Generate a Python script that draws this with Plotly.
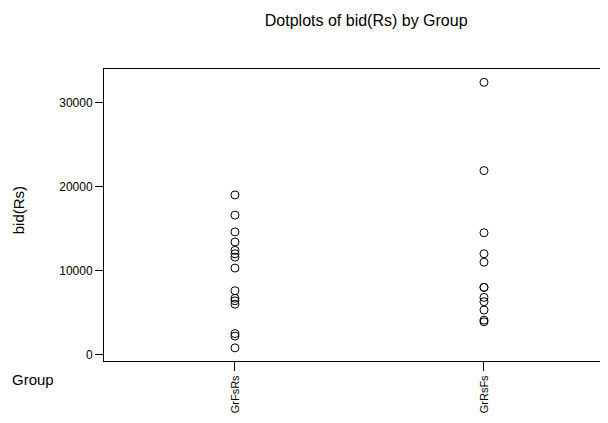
import plotly.graph_objects as go

groups = ["GrFsRs", "GrRsFs"]
bid_grfsrs = [19000, 16600, 14600, 13400, 12400, 12000, 11600, 10300,
              7600, 6700, 6400, 6000, 2500, 2200, 800]
bid_grrsfs = [32400, 21900, 14500, 12000, 11000, 8000, 8000, 6800,
              6300, 5300, 4100, 3900]
y_ticks = [0, 10000, 20000, 30000]

fig = go.Figure()
for i, vals in enumerate([bid_grfsrs, bid_grrsfs]):
    fig.add_trace(go.Scatter(
        x=[i] * len(vals), y=vals, mode="markers",
        marker=dict(symbol="circle-open", size=8, color="black",
                    line=dict(width=1, color="black")),
        showlegend=False, hoverinfo="y"))

# page has an 8px body margin, so the figure is 600x415 placed at (8,8)
fig.update_layout(
    width=600, height=415,
    margin=dict(l=96, r=8, t=61, b=62),
    paper_bgcolor="white", plot_bgcolor="white",
    font=dict(family="Liberation Sans, Arial, sans-serif", color="black"),
    title=dict(text="Dotplots of bid(Rs) by Group", x=0.597, xanchor="center",
               xref="container", y=0.971, yanchor="middle",
               font=dict(size=16, color="black")),
    xaxis=dict(range=[-0.526, 1.466], tickvals=[0, 1], ticktext=groups,
               tickangle=-90, ticks="outside", ticklen=9, tickwidth=1,
               tickcolor="black", showgrid=False, zeroline=False,
               showline=True, linecolor="black", linewidth=1, mirror=True,
               tickfont=dict(size=11)),
    yaxis=dict(range=[-763, 33990], tickvals=y_ticks,
               ticktext=[str(v) for v in y_ticks],
               ticks="outside", ticklen=8, tickwidth=1, tickcolor="black",
               showgrid=False, zeroline=False, showline=True,
               linecolor="black", linewidth=1, mirror=True,
               tickfont=dict(size=12)),
)
fig.add_annotation(text="bid(Rs)", xref="paper", yref="paper",
                   x=-0.173, y=0.517, xanchor="center", yanchor="middle",
                   textangle=-90, showarrow=False, font=dict(size=15))
fig.add_annotation(text="Group", xref="paper", yref="paper",
                   x=-0.19, y=-0.065, xanchor="left", yanchor="middle",
                   showarrow=False, font=dict(size=15))

fig.write_html("out.html")
